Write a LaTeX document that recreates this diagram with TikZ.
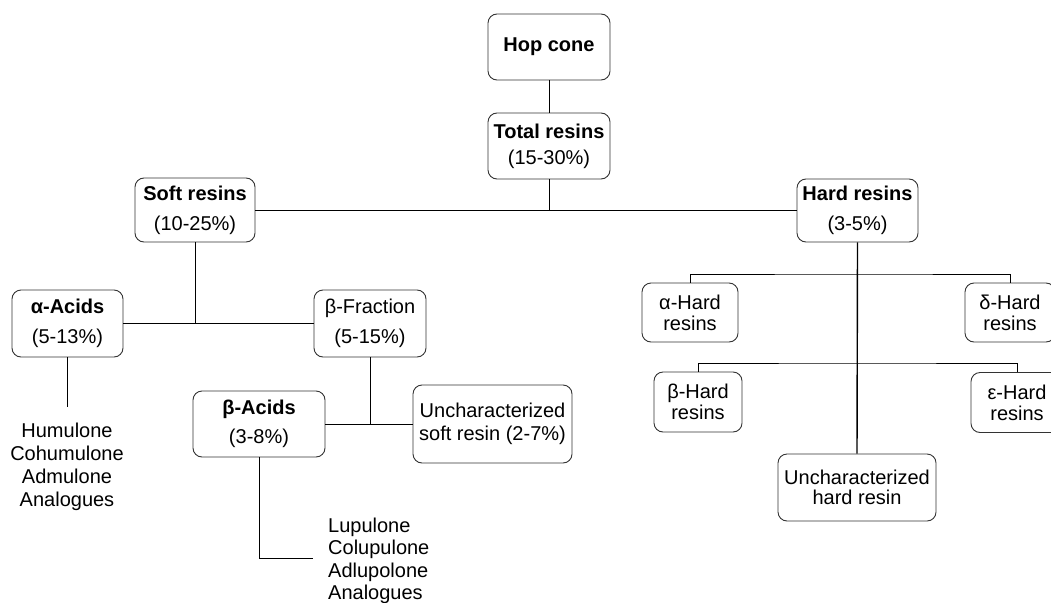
\documentclass[tikz,border=0pt]{standalone}
\usepackage{fontspec}
\setmainfont{Liberation Sans}
\begin{document}
\begin{tikzpicture}[x=1pt,y=-1pt]
\tikzset{
  basefont/.style={font=\fontsize{20}{23}\selectfont},
  box/.style={basefont, draw=black!80, line width=0.9pt, rounded corners=9pt, align=center, inner sep=0pt},
  conn/.style={line width=0.9pt, black},
  plaintext/.style={basefont, inner sep=0pt},
}
\path[use as bounding box] (0,0) rectangle (1051,602);
\clip (0,0) rectangle (1051,602);
\fill[white] (0,0) rectangle (1051,602);

\node[box, minimum width=122, minimum height=66] (hop) at (549,47) {\textbf{Hop cone}};
\node[box, minimum width=122, minimum height=66] (total) at (549,146) {\textbf{Total resins}\\[3pt](15-30\%)};
\node[box, minimum width=120, minimum height=64] (soft) at (195,210) {\textbf{Soft resins}\\[7pt](10-25\%)};
\node[box, minimum width=121, minimum height=63] (hard) at (857.5,210.5) {\textbf{Hard resins}\\[7pt](3-5\%)};
\node[box, minimum width=111, minimum height=67] (aacid) at (67.5,323.5) {\textbf{α-Acids}\\[7pt](5-13\%)};
\node[box, minimum width=112, minimum height=67] (bfrac) at (370,323.5) {β-Fraction\\[7pt](5-15\%)};
\node[box, minimum width=132, minimum height=66] (bacid) at (259,424) {\textbf{β-Acids}\\[6pt](3-8\%)};
\node[box, minimum width=159, minimum height=78] (usoft) at (492.5,424) {Uncharacterized\\soft resin (2-7\%)};
\node[box, minimum width=96, minimum height=59] (ahard) at (690,312.5) {α-Hard\\[-2pt]resins};
\node[box, minimum width=90, minimum height=59] (dhard) at (1010,312.5) {δ-Hard\\[-2pt]resins};
\node[box, minimum width=88, minimum height=60] (bhard) at (698,402) {β-Hard\\[-2pt]resins};
\node[box, minimum width=92, minimum height=60] (ehard) at (1017,402.5) {ε-Hard\\[-2pt]resins};
\node[box, minimum width=158, minimum height=67] (uhard) at (857,487.5) {Uncharacterized\\[-3pt]hard resin};

\node[plaintext, align=center] (alist) at (67,466.5) {Humulone\\Cohumulone\\Admulone\\Analogues};
\node[plaintext, align=left, anchor=west, font=\fontsize{20}{22.5}\selectfont] (blist) at (328,560.7) {Lupulone\\Colupulone\\Adlupolone\\Analogues};

\coordinate (ja) at (67.5,407);
\coordinate (jb) at (313,558);
\coordinate (h1) at (857,274);
\coordinate (h2) at (857,363);

\draw[conn] (hop) -- (total);
\draw[conn] (total.south) -- (total.south |- soft.east);
\draw[conn] (soft.east) -- (soft.east -| hard.west);
\draw[conn] (soft.south) -- (soft.south |- aacid.east);
\draw[conn] (aacid.east) -- (bfrac.west);
\draw[conn] (aacid.south) -- (ja);
\draw[conn] (bfrac.south) -- (bfrac.south |- bacid.east);
\draw[conn] (bacid.east) -- (usoft.west);
\draw[conn] (bacid.south) |- (jb);
\draw[conn, line width=1.4pt] (hard.south) -- (uhard.north);
\draw[conn] (ahard.north) |- (h1) -| (dhard.north);
\draw[conn] (bhard.north) |- (h2) -| (ehard.north);
\end{tikzpicture}
\end{document}
